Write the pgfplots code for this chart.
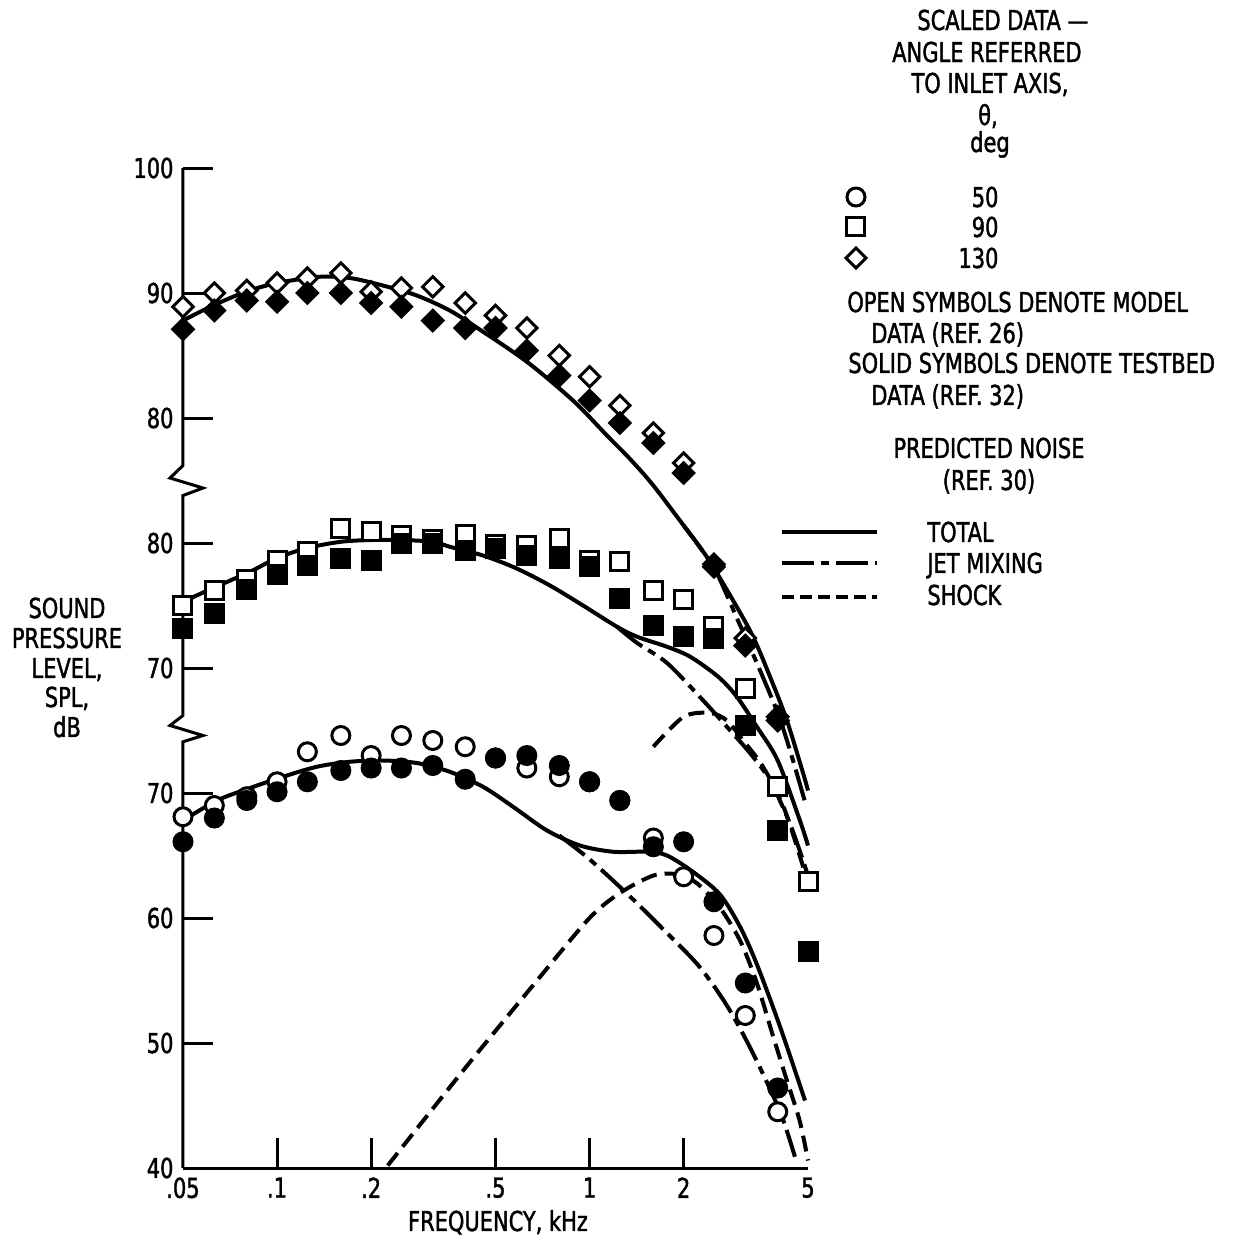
\documentclass[border=0pt]{standalone}
\usepackage{fontspec}
\setmainfont{DejaVu Sans Condensed}[FakeStretch=0.85,FakeBold=1.5]
\usepackage{pgfplots}
\pgfplotsset{compat=1.18}
\begin{document}
\fontsize{13.7bp}{16bp}\selectfont
\begin{tikzpicture}
\path[use as bounding box] (0,0) rectangle (619bp,-618bp);
\begin{axis}[
  at={(91.5bp,-584bp)}, anchor=south west,
  scale only axis, width=312.5bp, height=500bp,
  xmode=log, xmin=0.05, xmax=5, ymin=40, ymax=120,
  axis x line*=bottom, axis y line*=left,
  axis line style={-, line width=1.5bp},
  y axis line style={draw=none},
  xtick={0.1,0.2,0.5,1,2}, xticklabels={.1,.2,.5,1,2},
  extra x ticks={0.05,5}, extra x tick labels={.05,5},
  extra x tick style={major tick length=0pt},
  xminorticks=false, yminorticks=false,
  ytick={40,50,60,70,80,90,100,110,120},
  yticklabels={40,50,60,70,70,80,80,90,100},
  tick align=inside, major tick length=15bp,
  tick style={line width=1.5bp, black},
  clip=false,
  ticklabel style={font=\fontsize{13.7bp}{16bp}\selectfont},
  /pgf/number format/assume math mode=true,
]
% y axis with breaks
\draw[line width=1.5bp] (axis cs:0.05,120) -- (axis cs:0.05,96.2)
  -- ([xshift=-6.5bp]axis cs:0.05,95.2) -- ([xshift=10bp]axis cs:0.05,94.4)
  -- (axis cs:0.05,93.8) -- (axis cs:0.05,76.2)
  -- ([xshift=-6.5bp]axis cs:0.05,75.4) -- ([xshift=10bp]axis cs:0.05,74.6)
  -- (axis cs:0.05,74.1) -- (axis cs:0.05,40);

% ---------- predicted curves ----------
% 130 deg (offset +20)
\addplot[black, line width=2bp, smooth] coordinates {
(0.05,107.8)(0.0624,109.0)(0.0795,110.1)(0.1,110.8)(0.137,111.3)(0.171,111.2)(0.218,110.6)(0.28,109.8)(0.357,108.6)(0.45,107.0)(0.63,104.5)(0.885,101.4)(1.137,98.6)(1.35,96.7)(1.6,94.6)(2.0,91.4)(2.25,89.7)(2.5,88.0)(3.26,83.0)(3.78,79.3)(4.28,75.8)(4.82,71.6)(5.0,70.2)};
\addplot[black, line width=2bp, smooth, dash pattern=on 16bp off 3.5bp on 4bp off 3.5bp] coordinates {
(2.0,91.4)(2.5,88.0)(2.96,84.0)(3.43,80.4)(4.0,76.4)(4.38,73.4)(4.89,69.3)};
% 90 deg (offset +10)
\addplot[black, line width=2bp, smooth] coordinates {
(0.05,85.3)(0.0624,86.4)(0.0819,87.7)(0.1,88.8)(0.125,89.6)(0.16,90.1)(0.2,90.24)(0.25,90.24)(0.315,90.1)(0.357,89.7)(0.456,89.0)(0.58,88.0)(0.747,86.6)(0.953,85.0)(1.224,83.3)(1.42,82.5)(1.77,81.7)(2.10,80.9)(2.58,79.3)(2.96,77.7)(3.43,75.3)(4.0,72.6)(4.71,67.8)(5.0,65.8)};
\addplot[black, line width=2bp, smooth, dash pattern=on 16bp off 3.5bp on 4bp off 3.5bp] coordinates {
(1.224,83.3)(1.42,82.0)(1.77,80.4)(2.31,77.4)(2.75,75.3)(3.26,73.2)(3.78,71.0)(4.4,67.4)(5.0,63.4)};
\addplot[black, line width=2bp, smooth, dash pattern=on 8bp off 4bp] coordinates {
(1.6,73.7)(2.0,76.1)(2.43,76.4)(2.75,75.8)(3.1,74.2)(3.59,72.1)(4.22,68.6)(5.0,62.8)};
% 50 deg (no offset)
\addplot[black, line width=2bp, smooth] coordinates {
(0.05,67.8)(0.0642,69.4)(0.0819,70.4)(0.1045,71.3)(0.134,72.1)(0.171,72.5)(0.218,72.6)(0.28,72.4)(0.357,71.7)(0.456,70.5)(0.569,68.9)(0.731,67.0)(0.932,65.8)(1.19,65.3)(1.53,65.3)(1.77,65.0)(2.14,63.7)(2.61,61.9)(3.03,59.3)(3.43,56.3)(4.07,51.3)(4.89,45.4)};
\addplot[black, line width=2bp, smooth, dash pattern=on 16bp off 3.5bp on 4bp off 3.5bp] coordinates {
(0.8,66.6)(1.0,64.7)(1.35,61.7)(1.72,59.1)(2.23,56.2)(2.75,53.0)(3.33,49.2)(4.07,44.5)(4.54,40.9)};
\addplot[black, line width=2bp, smooth, dash pattern=on 8bp off 4bp] coordinates {
(0.226,40.2)(0.4,48.0)(0.7,55.4)(1.0,60.0)(1.25,62.0)(1.6,63.4)(1.9,63.5)(2.2,62.8)(2.6,60.9)(3.03,58.2)(3.43,54.8)(3.86,50.6)(4.28,47.0)(4.7,43.8)(5.0,40.6)};

% ---------- data symbols ----------
% 130 deg open / solid diamonds
\addplot[only marks, mark=square*, mark size=3.6bp, mark options={rotate=45, line width=1.5bp, draw=black, fill=white}] coordinates {
(0.05,108.9)(0.063,110.0)(0.08,110.2)(0.1,110.8)(0.125,111.2)(0.16,111.6)(0.2,110.1)(0.25,110.4)(0.315,110.5)(0.4,109.2)(0.5,108.2)(0.63,107.2)(0.8,105.0)(1,103.3)(1.25,101.0)(1.6,98.8)(2,96.4)(2.5,88.3)(3.15,82.4)(4,76.1)};
\addplot[only marks, mark=square*, mark size=3.6bp, mark options={rotate=45, line width=1.5bp, draw=black, fill=black}] coordinates {
(0.05,107.1)(0.063,108.6)(0.08,109.4)(0.1,109.3)(0.125,110.0)(0.16,110.0)(0.2,109.2)(0.25,108.9)(0.315,107.8)(0.4,107.2)(0.5,107.2)(0.63,105.4)(0.8,103.4)(1,101.4)(1.25,99.6)(1.6,98.0)(2,95.6)(2.5,88.1)(3.15,81.8)(4,75.8)};
% 90 deg open / solid squares
\addplot[only marks, mark=square*, mark size=4.5bp, mark options={line width=1.5bp, draw=black, fill=white}] coordinates {
(0.05,85.0)(0.063,86.2)(0.08,87.1)(0.1,88.6)(0.125,89.3)(0.16,91.2)(0.2,90.9)(0.25,90.6)(0.315,90.3)(0.4,90.7)(0.5,89.9)(0.63,89.8)(0.8,90.4)(1,88.6)(1.25,88.5)(1.6,86.2)(2,85.5)(2.5,83.3)(3.15,78.4)(4,70.5)(5,62.9)};
\addplot[only marks, mark=square*, mark size=4.5bp, mark options={line width=1.5bp, draw=black, fill=black}] coordinates {
(0.05,83.2)(0.063,84.4)(0.08,86.3)(0.1,87.5)(0.125,88.2)(0.16,88.8)(0.2,88.6)(0.25,90.0)(0.315,90.0)(0.4,89.4)(0.5,89.6)(0.63,89.0)(0.8,88.8)(1,88.1)(1.25,85.6)(1.6,83.4)(2,82.5)(2.5,82.4)(3.15,75.4)(4,67.0)(5,57.3)};
% 50 deg open / solid circles
\addplot[only marks, mark=*, mark size=4.5bp, mark options={line width=1.5bp, draw=black, fill=white}] coordinates {
(0.05,68.1)(0.063,69.0)(0.08,69.7)(0.1,70.9)(0.125,73.3)(0.16,74.6)(0.2,73.0)(0.25,74.6)(0.315,74.2)(0.4,73.7)(0.5,72.8)(0.63,72.0)(0.8,71.3)(1,70.9)(1.25,69.4)(1.6,66.4)(2,63.3)(2.5,58.6)(3.15,52.2)(4,44.5)};
\addplot[only marks, mark=*, mark size=4.5bp, mark options={line width=1.5bp, draw=black, fill=black}] coordinates {
(0.05,66.1)(0.063,68.0)(0.08,69.4)(0.1,70.1)(0.125,70.9)(0.16,71.8)(0.2,72.0)(0.25,72.0)(0.315,72.2)(0.4,71.1)(0.5,72.8)(0.63,73.0)(0.8,72.2)(1,70.9)(1.25,69.4)(1.6,65.7)(2,66.1)(2.5,61.3)(3.15,54.8)(4,46.4)};
\end{axis}

\begin{scope}[x=0.5bp,y=-0.5bp]
% right-hand key
\node[anchor=base] at (1003,30) {SCALED DATA ---};
\node[anchor=base] at (987,62) {ANGLE REFERRED};
\node[anchor=base] at (990,93) {TO INLET AXIS,};
\node[anchor=base] at (988,125) {θ,};
\node[anchor=base] at (990,152) {deg};
\draw[line width=1.5bp] (856,197) circle[radius=9];
\draw[line width=1.5bp] (847,218) rectangle (865,236);
\draw[line width=1.5bp] (856,248) -- (866,258) -- (856,268) -- (846,258) -- cycle;
\node[anchor=base east] at (1008,207) {50};
\node[anchor=base east] at (1008,237) {90};
\node[anchor=base east] at (1008,268) {130};
\node[anchor=base west, inner sep=0pt] at (847,312) {OPEN SYMBOLS DENOTE MODEL};
\node[anchor=base west, inner sep=0pt] at (871,343) {DATA (REF. 26)};
\node[anchor=base west, inner sep=0pt] at (848,373) {SOLID SYMBOLS DENOTE TESTBED};
\node[anchor=base west, inner sep=0pt] at (871,405) {DATA (REF. 32)};
\node[anchor=base] at (989,458) {PREDICTED NOISE};
\node[anchor=base] at (989,490) {(REF. 30)};
\draw[line width=2bp] (782,532) -- (877,532);
\draw[line width=2bp, dash pattern=on 16bp off 3.5bp on 4bp off 3.5bp] (782,563) -- (877,563);
\draw[line width=2bp, dash pattern=on 6bp off 3bp] (782,597) -- (877,597);
\node[anchor=base west, inner sep=0pt] at (927,542) {TOTAL};
\node[anchor=base west, inner sep=0pt] at (927,573) {JET MIXING};
\node[anchor=base west, inner sep=0pt] at (927,605) {SHOCK};
% axis titles
\node[anchor=base] at (67,618) {SOUND};
\node[anchor=base] at (67,648) {PRESSURE};
\node[anchor=base] at (67,678) {LEVEL,};
\node[anchor=base] at (67,707) {SPL,};
\node[anchor=base] at (67,737) {dB};
\node[anchor=base] at (498,1231) {FREQUENCY, kHz};
\end{scope}
\end{tikzpicture}
\end{document}
